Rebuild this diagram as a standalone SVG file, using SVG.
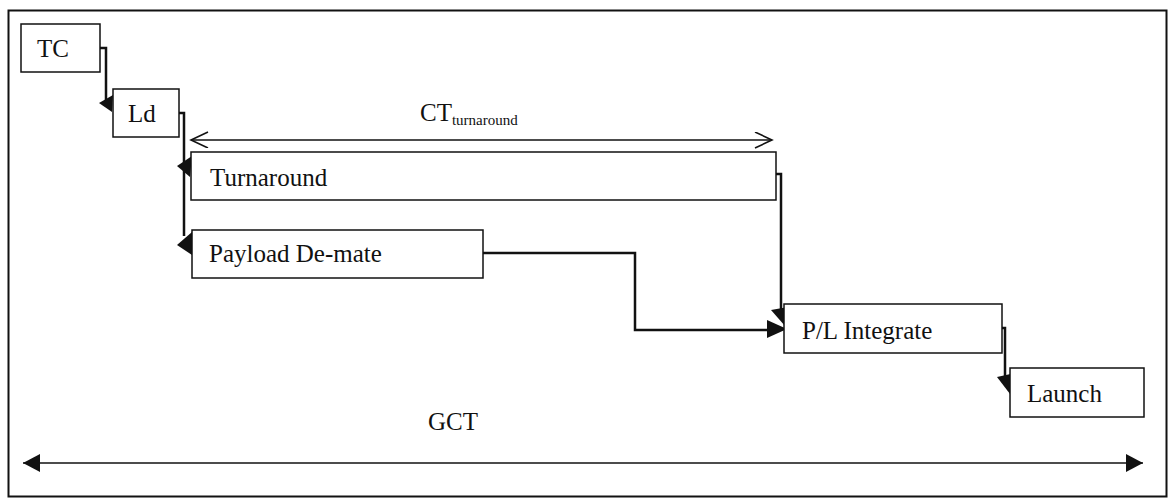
<svg xmlns="http://www.w3.org/2000/svg" width="1169" height="499" viewBox="0 0 1169 499">
<style>
.box{fill:#fff;stroke:#111;stroke-width:1.5}
.lbl{font-family:"Liberation Serif",serif;font-size:25px;fill:#111}
.con{fill:none;stroke:#111;stroke-width:2.5}
.thin{fill:none;stroke:#111;stroke-width:1.6}
.head{fill:#111;stroke:none}
</style>
<defs>
<marker id="open" markerWidth="20" markerHeight="20" refX="18" refY="8" orient="auto-start-reverse" markerUnits="userSpaceOnUse">
<path d="M1,0 L18,8 L1,16" fill="none" stroke="#111" stroke-width="1.6"/>
</marker>
<marker id="solid" markerWidth="20" markerHeight="20" refX="17" refY="9" orient="auto-start-reverse" markerUnits="userSpaceOnUse">
<path d="M0,0 L17,9 L0,18 Z" fill="#111"/>
</marker>
</defs>
<rect x="0" y="0" width="1169" height="499" fill="#fff"/>
<rect x="8.5" y="10.5" width="1158" height="486" fill="none" stroke="#111" stroke-width="2"/>

<g id="connectors">
<path class="con" d="M100,48 H106 V104"/>
<polygon class="head" points="99,103 113,95 112,112"/>
<path class="con" d="M179,113 H184 V236"/>
<polygon class="head" points="177,166 192,156 190,177"/>
<polygon class="head" points="177,245 192,232 192,255"/>
<path class="con" d="M776,174 H781 V314"/>
<polygon class="head" points="771,310 788,307 785,326"/>
<path class="con" d="M483,253 H635 V330 H770"/>
<polygon class="head" points="767,320 787,329 767,338"/>
<path class="con" d="M1002,328 H1005 V378"/>
<polygon class="head" points="997,377 1015,373 1010,394"/>
<line class="thin" x1="191" y1="140" x2="772" y2="140" marker-start="url(#open)" marker-end="url(#open)"/>
<line class="thin" x1="23" y1="463" x2="1143" y2="463" marker-start="url(#solid)" marker-end="url(#solid)"/>
</g>

<g id="TC">
<rect class="box" x="21" y="24" width="79" height="48"/>
<text class="lbl" x="37" y="57">TC</text>
</g>
<g id="Ld">
<rect class="box" x="113" y="89" width="66" height="48"/>
<text class="lbl" x="128" y="122">Ld</text>
</g>
<g id="Turnaround">
<rect class="box" x="191" y="152" width="585" height="48"/>
<text class="lbl" x="210" y="186">Turnaround</text>
</g>
<g id="PayloadDemate">
<rect class="box" x="192" y="230" width="291" height="48"/>
<text class="lbl" x="209" y="262">Payload De-mate</text>
</g>
<g id="PLIntegrate">
<rect class="box" x="784" y="304" width="218" height="49"/>
<text class="lbl" x="802" y="339">P/L Integrate</text>
</g>
<g id="Launch">
<rect class="box" x="1010" y="368" width="134" height="49"/>
<text class="lbl" x="1027" y="402">Launch</text>
</g>
<g id="labels">
<text class="lbl" x="420" y="121">CT<tspan font-size="15" dy="4">turnaround</tspan></text>
<text class="lbl" x="428" y="430">GCT</text>
</g>
</svg>
